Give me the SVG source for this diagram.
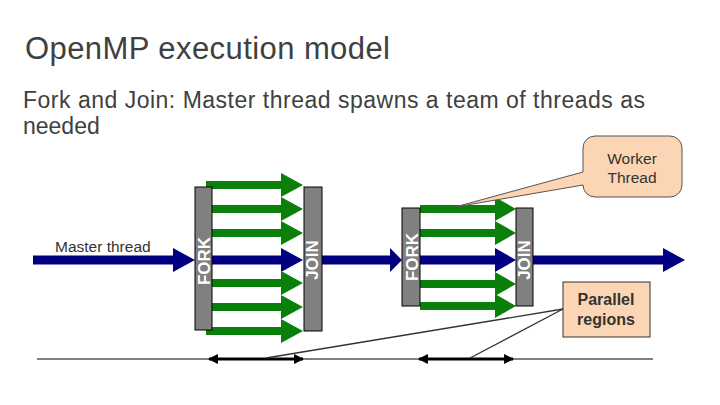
<svg xmlns="http://www.w3.org/2000/svg" width="720" height="405" viewBox="0 0 720 405">
<style>
text{font-family:"Liberation Sans",Arial,sans-serif;}
.title{font-size:31px;fill:#404040;}
.sub{font-size:23px;fill:#404040;}
.lbl{font-size:15.5px;fill:#333;}
.bar{fill:#808080;stroke:#000;stroke-width:1;}
.bartxt{font-size:17px;font-weight:bold;fill:#fff;text-anchor:middle;}
.green{fill:#0a800a;}
.blue{fill:#000080;}
.call{fill:#fcd5b4;stroke:#555;stroke-width:1;}
.ctxt{font-size:15.5px;fill:#333;text-anchor:middle;}
.ptxt{font-size:16px;font-weight:bold;fill:#333;text-anchor:middle;}
.conn{stroke:#333;stroke-width:1.3;fill:none;}
.dbl{stroke:#000;stroke-width:3;fill:none;}
</style>
<defs>
<marker id="ah" viewBox="0 0 10 10" refX="9" refY="5" markerWidth="3.3" markerHeight="3.3" orient="auto-start-reverse">
<path d="M0,0 L10,5 L0,10 Z" fill="#000"/>
</marker>
</defs>

<g id="title"><text class="title" x="25" y="59" textLength="365" lengthAdjust="spacing">OpenMP execution model</text></g>
<g id="subtitle">
<text class="sub" x="23" y="108" textLength="622" lengthAdjust="spacing">Fork and Join: Master thread spawns a team of threads as</text>
<text class="sub" x="23" y="134">needed</text>
</g>
<g id="master-label"><text class="lbl" x="55" y="252">Master thread</text></g>

<g id="master-thread" class="blue">
<path d="M33,255.5 H173 V248 L195,260 L173,272 V264.5 H33 Z"/>
<path d="M212,255.5 H281 V248 L303,260 L281,272 V264.5 H212 Z"/>
<path d="M322,255.5 H390 V248 L402,260 L390,272 V264.5 H322 Z"/>
<path d="M420,255.5 H495 V248 L516,260 L495,272 V264.5 H420 Z"/>
<path d="M533,255.5 H663 V248 L685,260 L663,272 V264.5 H533 Z"/>
</g>

<g id="workers-1" class="green">
<path d="M206,181 H281 V173 L303,185 L281,197 V189 H206 Z"/>
<path d="M206,205 H281 V197 L303,209 L281,221 V213 H206 Z"/>
<path d="M206,229 H281 V221 L303,233 L281,245 V237 H206 Z"/>
<path d="M206,279 H281 V271 L303,283 L281,295 V287 H206 Z"/>
<path d="M206,303 H281 V295 L303,307 L281,319 V311 H206 Z"/>
<path d="M206,327 H281 V319 L303,331 L281,343 V335 H206 Z"/>
</g>

<g id="workers-2" class="green">
<path d="M420,205 H495 V197 L516,209 L495,221 V213 H420 Z"/>
<path d="M420,229 H495 V221 L516,233 L495,245 V237 H420 Z"/>
<path d="M420,280 H495 V272 L516,284 L495,296 V288 H420 Z"/>
<path d="M420,302 H495 V294 L516,306 L495,318 V310 H420 Z"/>
</g>

<g id="fork-1">
<rect class="bar" x="195" y="187" width="17" height="143"/>
<text class="bartxt" transform="translate(209.5,261) rotate(-90)">FORK</text>
</g>
<g id="join-1">
<rect class="bar" x="304" y="187" width="18" height="144"/>
<text class="bartxt" transform="translate(317.5,260) rotate(-90)">JOIN</text>
</g>
<g id="fork-2">
<rect class="bar" x="402" y="208" width="18" height="98"/>
<text class="bartxt" transform="translate(418,257) rotate(-90)">FORK</text>
</g>
<g id="join-2">
<rect class="bar" x="516" y="208" width="17" height="98"/>
<text class="bartxt" transform="translate(530,260) rotate(-90)">JOIN</text>
</g>

<g id="worker-callout">
<path class="call" d="M595,136 H670 A12,12 0 0 1 682,148 V185 A12,12 0 0 1 670,197 H595 A12,12 0 0 1 583,185 L455,207 L583,172 V148 A12,12 0 0 1 595,136 Z"/>
<text class="ctxt" x="632" y="164">Worker</text>
<text class="ctxt" x="632" y="183">Thread</text>
</g>

<g id="parallel-regions">
<rect class="call" x="563" y="282" width="87" height="55" style="stroke:#333"/>
<text class="ptxt" x="606" y="305">Parallel</text>
<text class="ptxt" x="606" y="325">regions</text>
</g>

<g id="connectors">
<line x1="37" y1="359" x2="653" y2="359" stroke="#000" stroke-width="1"/>
<line class="dbl" x1="209" y1="359" x2="303" y2="359" marker-start="url(#ah)" marker-end="url(#ah)"/>
<line class="dbl" x1="419" y1="359" x2="513" y2="359" marker-start="url(#ah)" marker-end="url(#ah)"/>
<line class="conn" x1="563" y1="309" x2="266" y2="358"/>
<line class="conn" x1="563" y1="309" x2="470" y2="358"/>
</g>
</svg>
